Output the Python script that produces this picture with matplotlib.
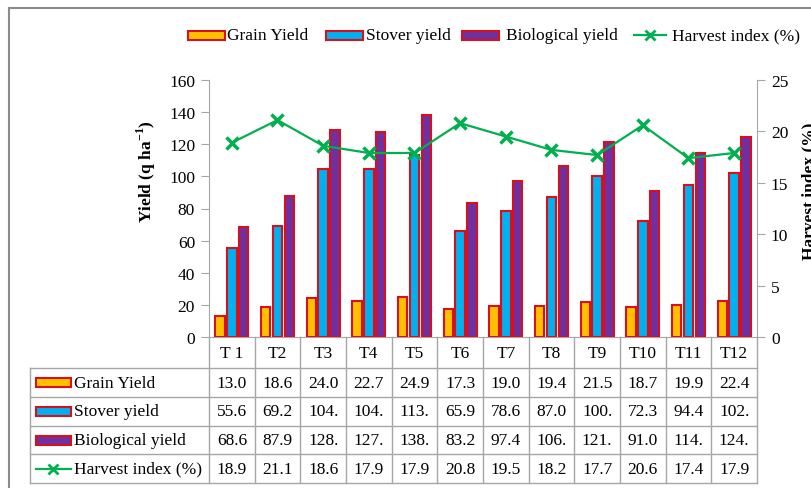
import matplotlib
matplotlib.use('Agg')
import matplotlib.pyplot as plt
import numpy as np
from matplotlib.patches import Rectangle
from matplotlib.lines import Line2D
from matplotlib.transforms import Affine2D, blended_transform_factory

plt.rcParams['font.family'] = ['Liberation Serif', 'DejaVu Serif']
plt.rcParams['mathtext.fontset'] = 'custom'
plt.rcParams['mathtext.rm'] = 'Liberation Serif'
plt.rcParams['mathtext.bf'] = 'Liberation Serif:bold'

# ---------------- data ----------------
categories = ['T 1', 'T2', 'T3', 'T4', 'T5', 'T6', 'T7', 'T8', 'T9', 'T10', 'T11', 'T12']
grain = [13.0, 18.6, 24.0, 22.7, 24.9, 17.3, 19.0, 19.4, 21.5, 18.7, 19.9, 22.4]
stover = [55.6, 69.2, 104.8, 104.5, 113.4, 65.9, 78.6, 87.0, 100.5, 72.3, 94.4, 102.3]
biological = [68.6, 87.9, 128.8, 127.6, 138.3, 83.2, 97.4, 106.4, 121.4, 91.0, 114.3, 124.7]
harvest = [18.9, 21.1, 18.6, 17.9, 17.9, 20.8, 19.5, 18.2, 17.7, 20.6, 17.4, 17.9]
series_names = ['Grain Yield', 'Stover yield', 'Biological yield', 'Harvest index (%)']
left_ticks = [0, 20, 40, 60, 80, 100, 120, 140, 160]
right_ticks = [0, 5, 10, 15, 20, 25]

# ---------------- styling ----------------
C_GRAIN = '#FFC000'
C_STOVER = '#00B0F0'
C_BIO = '#7030A0'
C_EDGE = '#D8101C'
C_HI = '#00B050'
C_GRID = '#A6A6A6'
FS = 12.5

W, H = 812, 489
fig = plt.figure(figsize=(W / 100, H / 100), dpi=100)
AX_L, AX_R, AX_T, AX_B = 209, 757, 81, 338
ax = fig.add_axes([AX_L / W, 1 - AX_B / H, (AX_R - AX_L) / W, (AX_B - AX_T) / H])

# pixel transform (origin top-left)
pix = Affine2D().scale(1 / W, -1 / H).translate(0, 1) + fig.transFigure
xdata_ypix = blended_transform_factory(ax.transData, pix)

x = np.arange(len(categories))
bw = 0.205
off = 0.26
ax.bar(x - off, grain, bw, color=C_GRAIN, edgecolor=C_EDGE, linewidth=1.5, zorder=3)
ax.bar(x, stover, bw, color=C_STOVER, edgecolor=C_EDGE, linewidth=1.5, zorder=3)
ax.bar(x + off, biological, bw, color=C_BIO, edgecolor=C_EDGE, linewidth=1.5, zorder=3)

ax.set_xlim(-0.5, len(categories) - 0.5)
ax.set_ylim(left_ticks[0], left_ticks[-1])
ax.set_yticks(left_ticks)
ax.set_xticks([])
for s in ['top', 'right']:
    ax.spines[s].set_visible(False)
for s in ['left', 'bottom']:
    ax.spines[s].set_color(C_GRID)
ax.tick_params(axis='y', direction='out', length=6, color=C_GRID, labelsize=FS, pad=4)
ax.patch.set_alpha(0)

ax2 = ax.twinx()
ax2.plot(x, harvest, color=C_HI, marker='x', markersize=9, markeredgewidth=2.5, linewidth=1.6, zorder=5)
ax2.set_ylim(right_ticks[0], right_ticks[-1])
ax2.set_yticks(right_ticks)
for s in ['top', 'left', 'bottom']:
    ax2.spines[s].set_visible(False)
ax2.spines['right'].set_color(C_GRID)
ax2.tick_params(axis='y', direction='out', length=6, color=C_GRID, labelsize=FS, pad=4)

# axis labels
fig.text(146 / W, 1 - 172 / H, r'Yield (q ha$^{\mathbf{-1}}$)', rotation=90, fontsize=FS,
         fontweight='bold', ha='center', va='center')
fig.text(809 / W, 1 - 191 / H, 'Harvest index (%)', rotation=90, fontsize=FS,
         fontweight='bold', ha='center', va='center')

# ---------------- data table ----------------
ROW_Y = [338, 369, 398, 427, 455, 484]
TBL_L = 30
for yy in ROW_Y[1:]:
    fig.add_artist(Line2D([TBL_L, AX_R], [yy, yy], transform=pix, color=C_GRID, lw=1))
fig.add_artist(Line2D([TBL_L, TBL_L], [ROW_Y[1], ROW_Y[-1]], transform=pix, color=C_GRID, lw=1))
for k in range(len(categories) + 1):
    fig.add_artist(Line2D([k - 0.5, k - 0.5], [ROW_Y[0], ROW_Y[-1]], transform=xdata_ypix,
                          color=C_GRID, lw=1))
for i, c in enumerate(categories):
    fig.text(i, (ROW_Y[0] + ROW_Y[1]) / 2, c, transform=xdata_ypix, ha='center', va='center',
             fontsize=FS)
rows = [grain, stover, biological, harvest]
key_colors = [C_GRAIN, C_STOVER, C_BIO]
for r, vals in enumerate(rows):
    yc = (ROW_Y[r + 1] + ROW_Y[r + 2]) / 2
    for i, v in enumerate(vals):
        fig.text(i, yc, f'{v:.1f}'[:4], transform=xdata_ypix, ha='center', va='center',
                 fontsize=FS)
    fig.text(74, yc, series_names[r], transform=pix, ha='left', va='center', fontsize=FS)
    if r < 3:
        fig.add_artist(Rectangle((36, yc - 4.5), 35, 9, transform=pix, facecolor=key_colors[r],
                                 edgecolor=C_EDGE, lw=1.5))
    else:
        fig.add_artist(Line2D([36, 71], [yc, yc], transform=pix, color=C_HI, lw=1.6))
        fig.add_artist(Line2D([53.5], [yc], transform=pix, color=C_HI, marker='x',
                              markersize=7, markeredgewidth=2))

# ---------------- legend (manual placement) ----------------
LEG_Y = 36
patch_x = [188, 326, 462]
text_x = [227, 366, 506, 672]
for k in range(3):
    fig.add_artist(Rectangle((patch_x[k], LEG_Y - 4.5), 37, 9, transform=pix,
                             facecolor=key_colors[k], edgecolor=C_EDGE, lw=1.5))
fig.add_artist(Line2D([634, 666], [LEG_Y, LEG_Y], transform=pix, color=C_HI, lw=1.6))
fig.add_artist(Line2D([650], [LEG_Y], transform=pix, color=C_HI, marker='x',
                      markersize=7, markeredgewidth=2))
for k in range(4):
    fig.text(text_x[k], LEG_Y, series_names[k], transform=pix, ha='left', va='center',
             fontsize=FS)

# outer frame (partially cropped)
fig.add_artist(Line2D([9, W], [9, 9], transform=pix, color='#8C8C8C', lw=1.5))
fig.add_artist(Line2D([9, 9], [9, H], transform=pix, color='#8C8C8C', lw=1.5))

fig.savefig('out.png', dpi=100)
